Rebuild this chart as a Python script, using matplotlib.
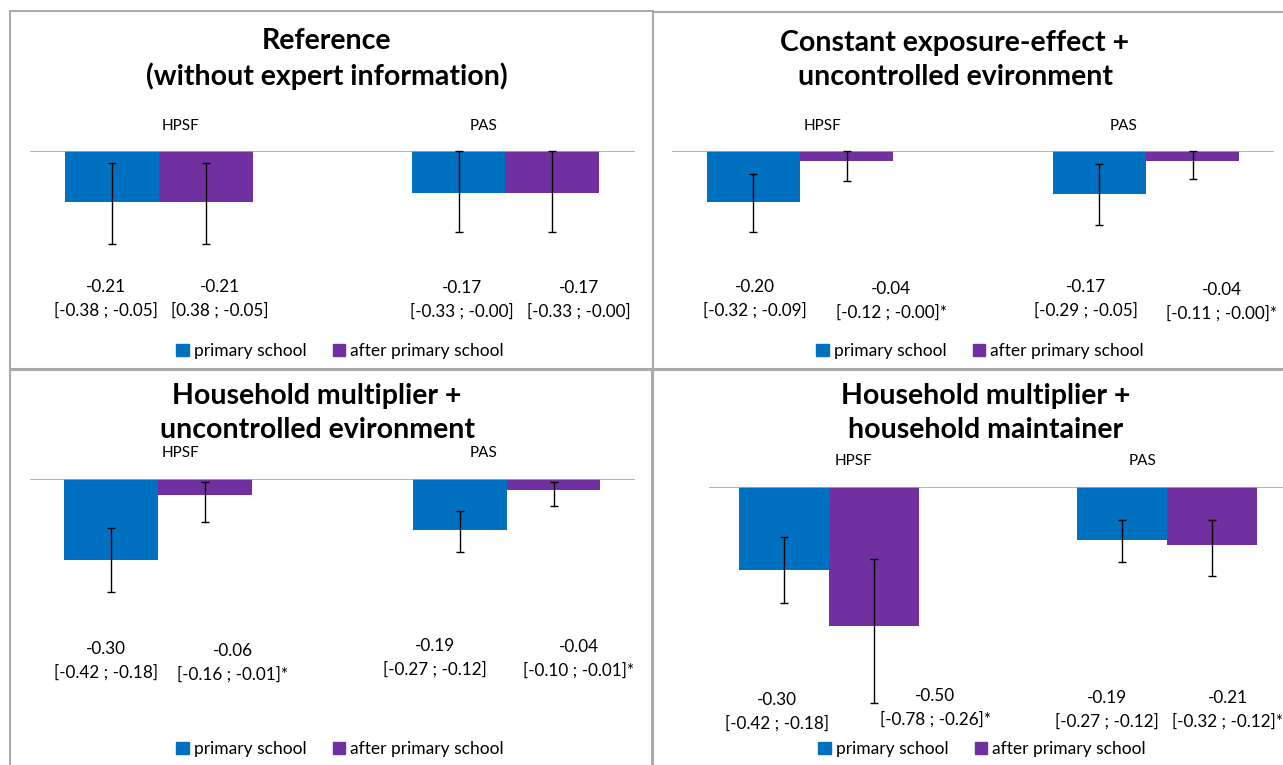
import numpy as np
import matplotlib
matplotlib.use('Agg')
import matplotlib.pyplot as plt
from matplotlib.patches import Rectangle, Patch

plt.rcParams['font.family'] = ['Lato', 'DejaVu Sans']

W, H = 1283, 765

groups = ['HPSF', 'PAS']
series = ['primary school', 'after primary school']
colors = ['#0070C0', '#7030A0']

titles = ['Reference\n(without expert information)',
          'Constant exposure-effect +\nuncontrolled evironment',
          'Household multiplier +\nuncontrolled evironment',
          'Household multiplier +\nhousehold maintainer']

# effect estimates per scenario, [HPSF, PAS]
primary = [[-0.21, -0.17], [-0.20, -0.17], [-0.30, -0.19], [-0.30, -0.19]]
after = [[-0.21, -0.17], [-0.04, -0.04], [-0.06, -0.04], [-0.50, -0.21]]

# confidence intervals
primary_lo = [[-0.38, -0.33], [-0.32, -0.29], [-0.42, -0.27], [-0.42, -0.27]]
primary_hi = [[-0.05, -0.00], [-0.09, -0.05], [-0.18, -0.12], [-0.18, -0.12]]
after_lo = [[-0.38, -0.33], [-0.12, -0.11], [-0.16, -0.10], [-0.78, -0.32]]
after_hi = [[-0.05, -0.00], [-0.00, -0.00], [-0.01, -0.01], [-0.26, -0.12]]

primary_ci_text = [['[-0.38 ; -0.05]', '[-0.33 ; -0.00]'],
                   ['[-0.32 ; -0.09]', '[-0.29 ; -0.05]'],
                   ['[-0.42 ; -0.18]', '[-0.27 ; -0.12]'],
                   ['[-0.42 ; -0.18]', '[-0.27 ; -0.12]']]
after_ci_text = [['[0.38 ; -0.05]', '[-0.33 ; -0.00]'],
                 ['[-0.12 ; -0.00]*', '[-0.11 ; -0.00]*'],
                 ['[-0.16 ; -0.01]*', '[-0.10 ; -0.01]*'],
                 ['[-0.78 ; -0.26]*', '[-0.32 ; -0.12]*']]

# pixel layout of each chart box
layout = [
    dict(box=(10, 11, 653, 369), axx=(29.5, 634.7), zero=151, scale=245, spread=0.073,
         title=(327, 59), catoff=25, legend=(340, 351),
         lab_p=[(106, 299), (462, 300)], lab_a=[(220, 299), (579, 300)]),
    dict(box=(653, 12, 1300, 369), axx=(672, 1274), zero=151, scale=254, spread=0.075,
         title=(955, 60), catoff=25, legend=(980, 351),
         lab_p=[(755, 299), (1086, 299)], lab_a=[(891, 301), (1222, 302)]),
    dict(box=(10, 370, 653, 800), axx=(29.5, 635), zero=479, scale=270, spread=0.076,
         title=(317, 413), catoff=26, legend=(340, 749),
         lab_p=[(106, 661), (435, 658)], lab_a=[(233, 663), (579, 659)]),
    dict(box=(652, 370, 1300, 800), axx=(708.5, 1287.5), zero=487, scale=277, spread=0.083,
         title=(986, 413), catoff=26, legend=(982, 749),
         lab_p=[(777, 712), (1107, 710)], lab_a=[(935, 708), (1228, 710)]),
]


def fx(x):
    return x / W


def fy(y):
    return 1 - y / H


fig = plt.figure(figsize=(W / 100, H / 100), dpi=100)
depth = 0.85
bw = 0.31
x = np.arange(len(groups))

for i, lay in enumerate(layout):
    bx0, by0, bx1, by1 = lay['box']
    fig.add_artist(Rectangle((fx(bx0), fy(by1)), (bx1 - bx0) / W, (by1 - by0) / H,
                             fill=False, ec='#ABABAB', lw=1.5, transform=fig.transFigure))

    a0, a1 = lay['axx']
    z, s = lay['zero'], lay['scale']
    ax = fig.add_axes([fx(a0), fy(z + s * depth), (a1 - a0) / W, s * depth / H])
    ax.set_xlim(-0.5, 1.5)
    ax.set_ylim(-depth, 0)
    ax.axis('off')

    centers = x + lay['spread'] * (2 * x - 1)
    xp = centers - bw / 2
    xa = centers + bw / 2
    p = np.array(primary[i])
    a = np.array(after[i])
    ax.bar(xp, p, bw, color=colors[0], zorder=2)
    ax.bar(xa, a, bw, color=colors[1], zorder=2)
    ax.errorbar(xp, p, yerr=[p - np.array(primary_lo[i]), np.array(primary_hi[i]) - p],
                fmt='none', ecolor='black', elinewidth=1, capsize=3, capthick=1,
                zorder=4, clip_on=False)
    ax.errorbar(xa, a, yerr=[a - np.array(after_lo[i]), np.array(after_hi[i]) - a],
                fmt='none', ecolor='black', elinewidth=1, capsize=3, capthick=1,
                zorder=4, clip_on=False)
    ax.axhline(0, color='#A6A6A6', lw=1.2, zorder=3)

    for k, g in enumerate(groups):
        ax.annotate(g, (x[k], 0), xytext=(0, lay['catoff'] * 0.72), textcoords='offset points',
                    ha='center', va='center', fontsize=11)

    fig.text(fx(lay['title'][0]), fy(lay['title'][1]), titles[i], ha='center', va='center',
             fontsize=20.5, fontweight='bold', linespacing=1.4)

    for k in range(2):
        lx, ly = lay['lab_p'][k]
        fig.text(fx(lx), fy(ly), f'{p[k]:.2f}\n{primary_ci_text[i][k]}',
                 ha='center', va='center', fontsize=12.3, linespacing=1.55)
        lx, ly = lay['lab_a'][k]
        fig.text(fx(lx), fy(ly), f'{a[k]:.2f}\n{after_ci_text[i][k]}',
                 ha='center', va='center', fontsize=12.3, linespacing=1.55)

    handles = [Patch(color=c) for c in colors]
    fig.legend(handles, series, loc='center', bbox_to_anchor=(fx(lay['legend'][0]), fy(lay['legend'][1])),
               ncol=2, frameon=False, fontsize=12.5, handlelength=0.7, handleheight=0.7,
               handletextpad=0.3, columnspacing=1.5, borderaxespad=0)

fig.savefig('out.png', dpi=100)
